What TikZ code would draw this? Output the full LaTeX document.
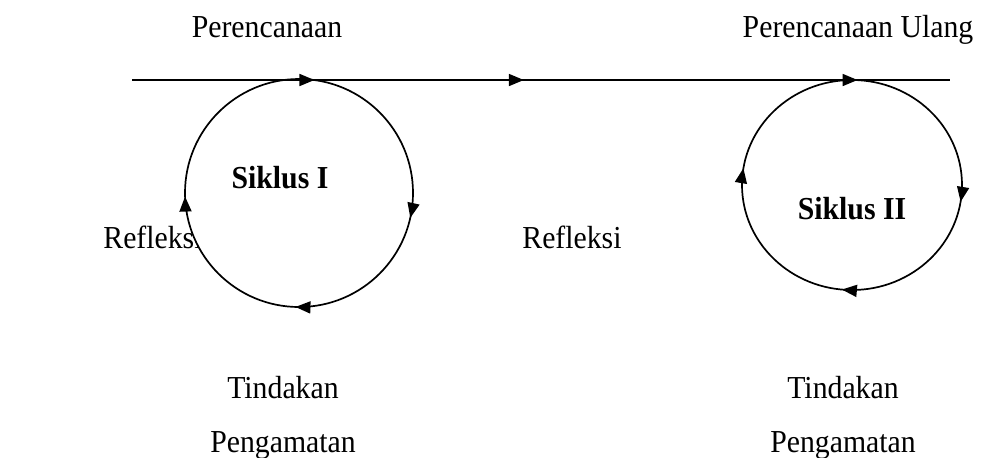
\documentclass[tikz,border=0pt]{standalone}
\usepackage{fontspec}
\setmainfont[FakeStretch=0.93]{Liberation Serif}
\usetikzlibrary{arrows.meta,decorations.markings}
\begin{document}
\begin{tikzpicture}[x=0.5pt,y=-0.5pt,
    lbl/.style={font=\fontsize{16}{19}\selectfont,inner sep=0pt,anchor=base},
    ttl/.style={lbl,font=\fontsize{16}{19}\selectfont\bfseries},
    cycle1/.style={draw,line width=0.85pt,fill=white,decoration={markings,
      mark=at position 0.035 with {\arrow{Triangle[length=7.5pt,width=6pt]}},
      mark=at position 0.255 with {\arrow{Triangle[length=7.5pt,width=6pt]}},
      mark=at position 0.495 with {\arrow{Triangle[length=7.5pt,width=6pt]}}},
      postaction={decorate}},
    cycle2/.style={draw,line width=0.85pt,fill=white,decoration={markings,
      mark=at position 0.025 with {\arrow{Triangle[length=7.5pt,width=6pt]}},
      mark=at position 0.265 with {\arrow{Triangle[length=7.5pt,width=6pt]}},
      mark=at position 0.525 with {\arrow{Triangle[length=7.5pt,width=6pt]}}},
      postaction={decorate}},
    flow/.style={draw,line width=0.85pt,decoration={markings,
      mark=at position 0.223 with {\arrow{Triangle[length=7.5pt,width=6pt]}},
      mark=at position 0.479 with {\arrow{Triangle[length=7.5pt,width=6pt]}},
      mark=at position 0.887 with {\arrow{Triangle[length=7.5pt,width=6pt]}}},
      postaction={decorate}}]
  \useasboundingbox (0,0) rectangle (985,457);
  % labels
  \node[lbl] (plan1) at (267,37) {Perencanaan};
  \node[lbl] (plan2) at (858,37) {Perencanaan Ulang};
  \node[lbl,anchor=base west] (refl1) at (103,248) {Refleksi};
  \node[lbl,anchor=base west] (refl2) at (522,248) {Refleksi};
  \node[lbl] (act1) at (283,398) {Tindakan};
  \node[lbl] (act2) at (843,398) {Tindakan};
  \node[lbl] (obs1) at (283,452) {Pengamatan};
  \node[lbl] (obs2) at (843,452) {Pengamatan};
  % cycles
  \coordinate (c1) at (299,193);
  \coordinate (c2) at (852,185);
  \path[cycle1] (c1) circle [radius=114];
  \path[cycle2] (c2) circle [x radius=110,y radius=105];
  \node[ttl] (cyc1) at (280,188) {Siklus I};
  \node[ttl] (cyc2) at (852,219) {Siklus II};
  % main line
  \coordinate (start) at (132,80);
  \coordinate (end) at (950,80);
  \path[flow] (start) -- (end);
\end{tikzpicture}
\end{document}
